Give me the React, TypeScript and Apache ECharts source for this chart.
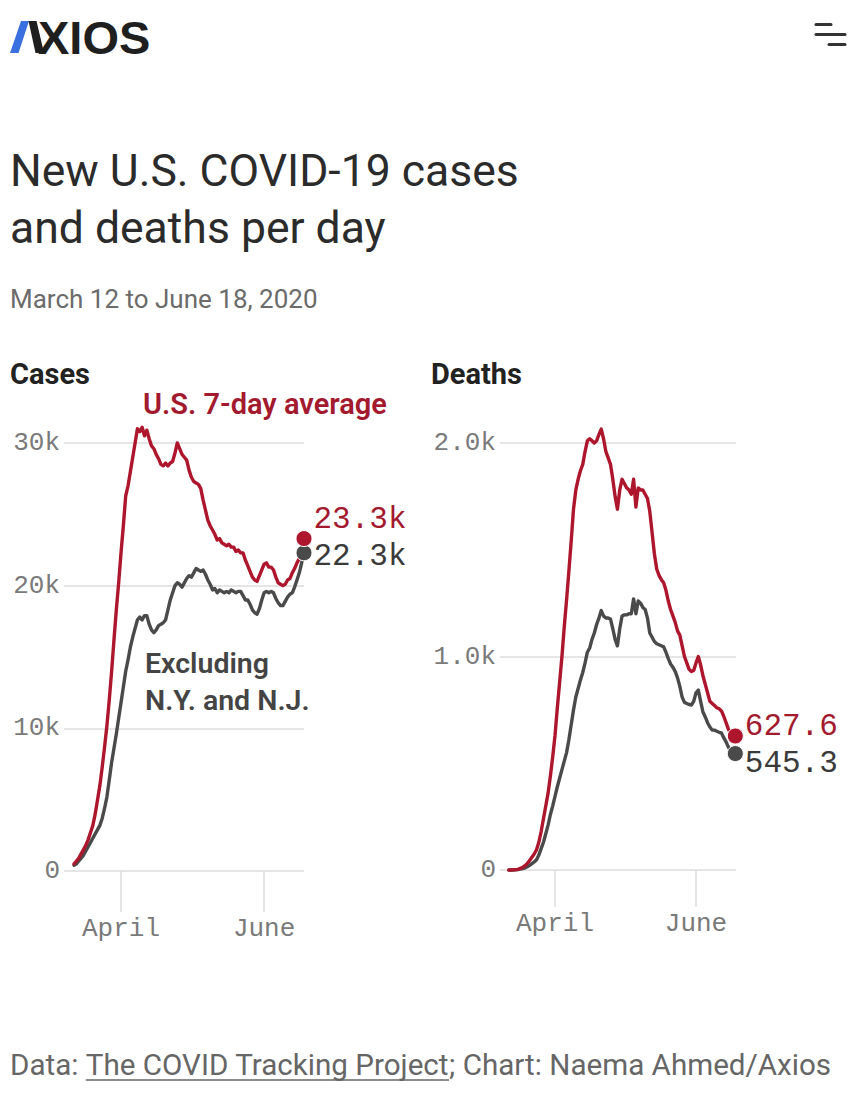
import React, { useEffect, useRef } from "react";
import * as echarts from "echarts";

// Day index 0 = March 12, 2020 ... 98 = June 18, 2020
const xTickDays = [20, 81];
const xTickLabels = ["April", "June"];

// New cases, 7-day average, thousands
const casesUS = [
  0.5, 0.7, 0.9, 1.2, 1.5, 1.8, 2.2, 2.7, 3.2, 4.0,
  5.0, 6.0, 7.3, 8.7, 10.2, 12.0, 14.0, 16.2, 18.3, 20.2,
  22.3, 24.2, 26.3, 27.0, 28.0, 29.0, 30.0, 31.0, 30.8, 31.1,
  30.5, 30.9, 30.3, 29.8, 29.6, 29.2, 28.9, 28.5, 28.4, 28.6,
  28.4, 28.6, 28.7, 29.3, 30.0, 29.6, 29.2, 29.0, 28.8, 28.1,
  27.6, 27.3, 27.2, 27.1, 26.8, 26.0, 25.3, 24.6, 24.2, 23.9,
  23.6, 23.2, 23.3, 23.0, 22.9, 22.8, 22.9, 22.7, 22.7, 22.4,
  22.5, 22.3, 22.3, 21.8, 21.4, 21.0, 20.6, 20.4, 20.3, 20.7,
  21.1, 21.5, 21.6, 21.3, 21.3, 21.1, 20.6, 20.2, 20.1, 20.0,
  20.1, 20.4, 20.5, 20.9, 21.2, 21.6, 21.9, 22.6, 23.3,
];
const casesExNYNJ = [
  0.4, 0.5, 0.7, 0.9, 1.1, 1.4, 1.7, 2.0, 2.3, 2.6,
  2.9, 3.2, 3.7, 4.4, 5.2, 6.4, 7.6, 8.6, 9.6, 10.7,
  11.8, 12.9, 14.0, 14.8, 15.7, 16.4, 17.0, 17.6, 17.8, 17.6,
  17.9, 17.9, 17.3, 16.9, 16.7, 16.9, 17.2, 17.3, 17.4, 17.6,
  18.3, 19.0, 19.5, 20.0, 20.2, 20.1, 19.9, 20.2, 20.5, 20.7,
  20.6, 20.9, 21.2, 21.1, 21.0, 21.1, 20.8, 20.4, 20.1, 19.7,
  19.8, 19.5, 19.7, 19.6, 19.5, 19.6, 19.5, 19.7, 19.6, 19.5,
  19.6, 19.6, 19.3, 19.0, 19.0, 18.7, 18.3, 18.1, 18.0, 18.4,
  19.0, 19.5, 19.6, 19.5, 19.6, 19.5, 19.1, 18.8, 18.6, 18.6,
  18.9, 19.2, 19.4, 19.5, 19.9, 20.4, 20.9, 21.6, 22.3,
];

// New deaths, 7-day average
const deathsUS = [
  0, 0, 1, 2, 3, 8, 12, 20, 30, 45,
  60, 75, 95, 130, 180, 240, 300, 360, 440, 530,
  630, 760, 880, 1000, 1140, 1265, 1400, 1540, 1690, 1780,
  1830, 1870, 1900, 1960, 2010, 2020, 2010, 2000, 2010, 2040,
  2065, 2020, 1960, 1930, 1900, 1830, 1750, 1690, 1780, 1830,
  1810, 1790, 1780, 1760, 1830, 1700, 1790, 1780, 1780, 1760,
  1740, 1680, 1580, 1480, 1410, 1380, 1360, 1345, 1310, 1260,
  1220, 1190, 1160, 1120, 1100, 1050, 1000, 970, 940, 930,
  935, 970, 1000, 960, 910, 870, 830, 790, 780, 770,
  760, 755, 745, 720, 690, 660, 640, 630, 627.6,
];
const deathsExNYNJ = [
  0, 0, 0, 1, 2, 4, 7, 10, 15, 22,
  30, 38, 48, 70, 100, 130, 170, 210, 260, 300,
  345, 390, 430, 470, 510, 550, 610, 680, 750, 810,
  850, 890, 925, 970, 1020, 1040, 1080, 1110, 1150, 1180,
  1215, 1190, 1180, 1180, 1175, 1130, 1080, 1050, 1130, 1190,
  1195, 1195, 1200, 1200, 1270, 1200, 1260, 1250, 1230, 1220,
  1180, 1110, 1090, 1070, 1060, 1055, 1050, 1045, 1020, 990,
  965, 950, 930, 900, 860, 810, 785, 780, 775, 773,
  790, 830, 843, 790, 740, 717, 690, 670, 656, 655,
  650, 645, 642, 620, 600, 576, 560, 550, 545.3,
];

const titleLines = ["New U.S. COVID-19 cases", "and deaths per day"];
const subtitle = "March 12 to June 18, 2020";
const sourcePre = "Data: ";
const sourceLink = "The COVID Tracking Project";
const sourcePost = "; Chart: Naema Ahmed/Axios";

const SANS = "Roboto, 'Liberation Sans', Arial, sans-serif";
const MONO = "'Liberation Mono', 'DejaVu Sans Mono', monospace";
const RED = "#ad162c";
const RED_TEXT = "#a31a2f";
const GRAY = "#4a4a4a";
const GRID = "#dcdcdc";
const AXIS_TEXT = "#7a7a7a";

function measure(text: string, font: string): number {
  const ctx = document.createElement("canvas").getContext("2d");
  if (!ctx) return text.length * 13;
  ctx.font = font;
  return ctx.measureText(text).width;
}

const toXY = (arr: number[]) => arr.map((v, i) => [i, v]);
const lastXY = (arr: number[]) => [[arr.length - 1, arr[arr.length - 1]]];

export default function App() {
  const ref = useRef<HTMLDivElement>(null);

  useEffect(() => {
    if (!ref.current) return;
    const chart = echarts.init(ref.current, undefined, { renderer: "svg" });

    const footSize = 29.6;
    const footFont = `${footSize}px ${SANS}`;
    const wPre = measure(sourcePre, footFont);
    const wLink = measure(sourceLink, footFont);
    const footX = 10;
    const footY = 1065;

    const xAxisBase = (gridIndex: number, min: number, max: number, tickLen: number, margin: number) => ({
      gridIndex,
      type: "value",
      min,
      max,
      axisLine: { show: false },
      splitLine: { show: false },
      axisTick: {
        show: true,
        customValues: xTickDays,
        length: tickLen,
        lineStyle: { color: GRID, width: 1.5 },
      },
      axisLabel: {
        show: true,
        customValues: xTickDays,
        formatter: (v: number) => {
          const i = xTickDays.indexOf(Math.round(v));
          return i >= 0 ? xTickLabels[i] : "";
        },
        margin,
        fontFamily: MONO,
        fontSize: 26,
        color: AXIS_TEXT,
      },
    });

    const yAxisBase = (gridIndex: number, max: number, interval: number, fmt: (v: number) => string) => ({
      gridIndex,
      type: "value",
      min: 0,
      max,
      interval,
      axisLine: { show: false },
      axisTick: { show: false },
      splitLine: { show: true, lineStyle: { color: GRID, width: 1.5 } },
      axisLabel: {
        margin: 4,
        formatter: fmt,
        fontFamily: MONO,
        fontSize: 26,
        color: AXIS_TEXT,
      },
    });

    const lineSeries = (data: number[], idx: number, color: string, z: number) => ({
      type: "line",
      xAxisIndex: idx,
      yAxisIndex: idx,
      data: toXY(data),
      symbol: "none",
      clip: false,
      z,
      lineStyle: { color, width: 3.4, join: "round", cap: "round" },
    });

    const endDot = (
      data: number[],
      idx: number,
      color: string,
      textColor: string,
      z: number,
      offsetY: number,
      fmt: (v: number) => string
    ) => ({
      type: "scatter",
      xAxisIndex: idx,
      yAxisIndex: idx,
      data: lastXY(data),
      symbol: "circle",
      symbolSize: 16,
      clip: false,
      z,
      itemStyle: { color, opacity: 1, borderColor: "#ffffff", borderWidth: 1 },
      label: {
        show: true,
        position: "right",
        distance: 1,
        offset: [0, offsetY],
        formatter: (p: any) => fmt(p.value[1]),
        fontFamily: MONO,
        fontSize: 31,
        lineHeight: 28,
        color: textColor,
        opacity: 1,
      },
    });

    const casesFmt = (v: number) => v.toFixed(1) + "k";
    const deathsFmt = (v: number) => v.toFixed(1);

    const option: any = {
      animation: false,
      backgroundColor: "#ffffff",
      grid: [
        { left: 64, top: 443, width: 240, height: 428 },
        { left: 500, top: 443, width: 236, height: 427 },
      ],
      xAxis: [xAxisBase(0, -4.3, 98, 41, 45), xAxisBase(1, -3.8, 98.3, 37, 41)],
      yAxis: [
        yAxisBase(0, 30, 10, (v: number) => (v === 0 ? "0" : v + "k")),
        yAxisBase(1, 2000, 1000, (v: number) => (v === 0 ? "0" : (v / 1000).toFixed(1) + "k")),
      ],
      series: [
        lineSeries(casesExNYNJ, 0, GRAY, 2),
        lineSeries(casesUS, 0, RED, 3),
        endDot(casesExNYNJ, 0, GRAY, "#3a3a3a", 4, 3.5, casesFmt),
        endDot(casesUS, 0, RED, RED_TEXT, 5, -19.5, casesFmt),
        lineSeries(deathsExNYNJ, 1, GRAY, 2),
        lineSeries(deathsUS, 1, RED, 3),
        endDot(deathsExNYNJ, 1, GRAY, "#3a3a3a", 4, 9.5, deathsFmt),
        endDot(deathsUS, 1, RED, RED_TEXT, 5, -10, deathsFmt),
      ],
      graphic: [
        // Axios logo
        {
          type: "polygon",
          shape: { points: [[10, 53], [18.5, 53], [29, 21], [21, 21]] },
          style: { fill: "#3a6fe0" },
        },
        {
          type: "polygon",
          shape: { points: [[28.5, 21], [36.5, 21], [44, 53], [35.5, 53]] },
          style: { fill: "#1f1f1f" },
        },
        {
          type: "text",
          x: 38,
          y: 37.5,
          style: {
            text: "XIOS",
            fontFamily: "'Liberation Sans', Arial, sans-serif",
            fontWeight: "bold",
            fontSize: 47,
            fill: "#1f1f1f",
            verticalAlign: "middle",
            align: "left",
          },
        },
        // menu icon
        { type: "line", shape: { x1: 816, y1: 24.5, x2: 831, y2: 24.5 }, style: { stroke: "#333", lineWidth: 3, lineCap: "round" } },
        { type: "line", shape: { x1: 816, y1: 34.5, x2: 845, y2: 34.5 }, style: { stroke: "#333", lineWidth: 3, lineCap: "round" } },
        { type: "line", shape: { x1: 829, y1: 44.5, x2: 845, y2: 44.5 }, style: { stroke: "#333", lineWidth: 3, lineCap: "round" } },
        // title
        ...titleLines.map((t, i) => ({
          type: "text",
          x: 10,
          y: 171 + i * 57,
          style: {
            text: t,
            fontFamily: SANS,
            fontSize: 44.5,
            fill: "#2b2b2b",
            verticalAlign: "middle",
            align: "left",
          },
        })),
        {
          type: "text",
          x: 10,
          y: 299,
          style: { text: subtitle, fontFamily: SANS, fontSize: 26, fill: "#6b6b6b", verticalAlign: "middle" },
        },
        {
          type: "text",
          x: 10,
          y: 374,
          style: { text: "Cases", fontFamily: SANS, fontWeight: "bold", fontSize: 29, fill: "#222", verticalAlign: "middle" },
        },
        {
          type: "text",
          x: 431,
          y: 374,
          style: { text: "Deaths", fontFamily: SANS, fontWeight: "bold", fontSize: 29, fill: "#222", verticalAlign: "middle" },
        },
        {
          type: "text",
          x: 143,
          y: 404,
          style: { text: "U.S. 7-day average", fontFamily: SANS, fontWeight: 600, fontSize: 29, fill: RED_TEXT, verticalAlign: "middle" },
        },
        {
          type: "text",
          x: 145,
          y: 663,
          style: { text: "Excluding", fontFamily: SANS, fontWeight: 600, fontSize: 28.5, fill: "#444", verticalAlign: "middle" },
        },
        {
          type: "text",
          x: 145,
          y: 700,
          style: { text: "N.Y. and N.J.", fontFamily: SANS, fontWeight: 600, fontSize: 28.5, fill: "#444", verticalAlign: "middle" },
        },
        // footer
        {
          type: "text",
          x: footX,
          y: footY,
          style: { text: sourcePre, fontFamily: SANS, fontSize: footSize, fill: "#666", verticalAlign: "middle" },
        },
        {
          type: "text",
          x: footX + wPre,
          y: footY,
          style: { text: sourceLink, fontFamily: SANS, fontSize: footSize, fill: "#666", verticalAlign: "middle" },
        },
        {
          type: "line",
          shape: { x1: footX + wPre, y1: footY + 15, x2: footX + wPre + wLink, y2: footY + 15 },
          style: { stroke: "#666", lineWidth: 1.5 },
        },
        {
          type: "text",
          x: footX + wPre + wLink,
          y: footY,
          style: { text: sourcePost, fontFamily: SANS, fontSize: footSize, fill: "#666", verticalAlign: "middle" },
        },
      ],
    };

    chart.setOption(option);
    return () => chart.dispose();
  }, []);

  return (
    <div
      ref={ref}
      style={{ position: "absolute", left: 0, top: 0, width: 851, height: 1100, background: "#fff" }}
    />
  );
}
